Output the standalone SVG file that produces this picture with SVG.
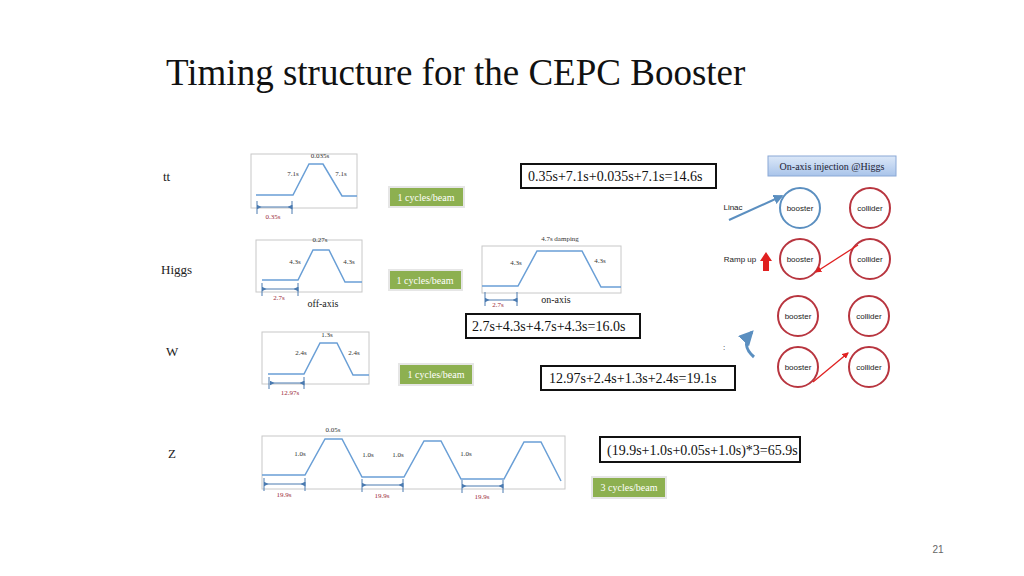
<svg xmlns="http://www.w3.org/2000/svg" width="1024" height="576" viewBox="0 0 1024 576">
<defs>
<style>
.s{font-family:"Liberation Serif",serif}
.k{font-size:7px;fill:#333;text-anchor:middle}
.r{font-size:7px;fill:#9b2a3a;text-anchor:middle}
.frame{fill:#fff;stroke:#c8c8c8;stroke-width:1}
.wave{fill:none;stroke:#6a9fd6;stroke-width:1.5}
.dim{stroke:#4a7ab0;stroke-width:1;marker-start:url(#ab);marker-end:url(#ab)}
.tick{stroke:#4a7ab0;stroke-width:1}
.fb{fill:#fff;stroke:#111;stroke-width:2}
.ft{font-size:14px;fill:#111}
.gb{fill:#8db050;stroke:#e6e6e6;stroke-width:2}
.gt{font-size:10px;fill:#fff;text-anchor:middle}
.rc{fill:#fff;stroke:#b8353f;stroke-width:2}
.ct{font-family:"Liberation Sans",sans-serif;font-size:8px;fill:#222;text-anchor:middle}
</style>
<marker id="ab" viewBox="0 0 6 6" refX="3" refY="3" markerWidth="5" markerHeight="5" orient="auto-start-reverse"><path d="M6,0 L0,3 L6,6z" fill="#4a7ab0"/></marker>
<marker id="ar" viewBox="0 0 6 6" refX="5" refY="3" markerWidth="5" markerHeight="5" orient="auto"><path d="M0,0 L6,3 L0,6z" fill="#e02020"/></marker>
<marker id="abl" viewBox="0 0 6 6" refX="5" refY="3" markerWidth="5" markerHeight="5" orient="auto"><path d="M0,0 L6,3 L0,6z" fill="#5b8fc0"/></marker>
<linearGradient id="tg" x1="0" y1="0" x2="0" y2="1"><stop offset="0" stop-color="#dce8f8"/><stop offset="1" stop-color="#a9c4ea"/></linearGradient>
</defs>
<rect width="1024" height="576" fill="#fff"/>
<text class="s" x="166" y="85" font-size="37" fill="#111">Timing structure for the CEPC Booster</text>

<g class="s" font-size="13" fill="#222">
<text x="163" y="181">tt</text><text x="161" y="274">Higgs</text><text x="166" y="356">W</text><text x="168" y="458">Z</text>
</g>

<g id="tt-chart">
<rect class="frame" x="251" y="154" width="106" height="54"/>
<path class="wave" d="M256,195 H293 L309,164 H323 L342,196 H357"/>
<text class="s k" x="320" y="158">0.035s</text><text class="s k" x="293" y="176">7.1s</text><text class="s k" x="341" y="176">7.1s</text>
<line class="dim" x1="259" y1="207" x2="290" y2="207"/><line class="tick" x1="257" y1="201" x2="257" y2="214"/><line class="tick" x1="292" y1="201" x2="292" y2="214"/>
<text class="s r" x="273" y="219">0.35s</text>
</g>
<g id="higgs-off">
<rect class="frame" x="256" y="240" width="106" height="52"/>
<path class="wave" d="M262,280 H298 L313,250 H329 L345,282 H362"/>
<text class="s k" x="320" y="242">0.27s</text><text class="s k" x="295" y="264">4.3s</text><text class="s k" x="349" y="264">4.3s</text>
<line class="dim" x1="264" y1="289" x2="296" y2="289"/><line class="tick" x1="262" y1="283" x2="262" y2="296"/><line class="tick" x1="298" y1="283" x2="298" y2="296"/>
<text class="s r" x="279" y="300">2.7s</text>
<text class="s" x="323" y="307" font-size="10" fill="#222" text-anchor="middle">off-axis</text>
</g>
<g id="higgs-on">
<rect class="frame" x="482" y="246" width="139" height="47"/>
<path class="wave" d="M482,286 H518 L537,251 H582 L601,287 H621"/>
<text class="s k" x="560" y="241">4.7s damping</text><text class="s k" x="516" y="265">4.3s</text><text class="s k" x="600" y="263">4.3s</text>
<line class="dim" x1="487" y1="300" x2="515" y2="300"/><line class="tick" x1="485" y1="292" x2="485" y2="306"/><line class="tick" x1="517" y1="292" x2="517" y2="306"/>
<text class="s r" x="498" y="307">2.7s</text>
<text class="s" x="556" y="303" font-size="10" fill="#222" text-anchor="middle">on-axis</text>
</g>
<g id="w-chart">
<rect class="frame" x="262" y="332" width="107" height="52"/>
<path class="wave" d="M268,374 H304 L320,343 H337 L353,375 H369"/>
<text class="s k" x="327" y="337">1.3s</text><text class="s k" x="301" y="355">2.4s</text><text class="s k" x="354" y="355">2.4s</text>
<line class="dim" x1="272" y1="383" x2="302" y2="383"/><line class="tick" x1="269" y1="377" x2="269" y2="389"/><line class="tick" x1="304" y1="377" x2="304" y2="389"/>
<text class="s r" x="290" y="395">12.97s</text>
</g>
<g id="z-chart">
<rect class="frame" x="262" y="436" width="303" height="53"/>
<path class="wave" d="M262,475 H305 L325,439 H342 L362,477 H404 L424,441 H441 L461,479 H504 L524,442 H541 L561,481"/>
<text class="s k" x="333" y="432">0.05s</text><text class="s k" x="300" y="456">1.0s</text><text class="s k" x="368" y="457">1.0s</text><text class="s k" x="398" y="457">1.0s</text><text class="s k" x="466" y="456">1.0s</text>
<line class="dim" x1="266" y1="484" x2="303" y2="484"/><line class="tick" x1="264" y1="478" x2="264" y2="491"/><line class="tick" x1="305" y1="478" x2="305" y2="491"/>
<line class="dim" x1="364" y1="485" x2="401" y2="485"/><line class="tick" x1="362" y1="479" x2="362" y2="492"/><line class="tick" x1="403" y1="479" x2="403" y2="492"/>
<line class="dim" x1="464" y1="486" x2="501" y2="486"/><line class="tick" x1="462" y1="480" x2="462" y2="493"/><line class="tick" x1="503" y1="480" x2="503" y2="493"/>
<text class="s r" x="284" y="497">19.9s</text><text class="s r" x="382" y="498">19.9s</text><text class="s r" x="482" y="499">19.9s</text>
</g>

<g id="cycles">
<rect class="gb" x="389" y="187" width="75" height="20"/><text class="s gt" x="426" y="201">1 cycles/beam</text>
<rect class="gb" x="389" y="270" width="73" height="20"/><text class="s gt" x="425" y="284">1 cycles/beam</text>
<rect class="gb" x="399" y="364" width="74" height="21"/><text class="s gt" x="436" y="378">1 cycles/beam</text>
<rect class="gb" x="592" y="477" width="74" height="21"/><text class="s gt" x="629" y="491">3 cycles/beam</text>
</g>
<g id="formulas" class="s">
<rect class="fb" x="521" y="164" width="195" height="24"/><text class="ft" x="528" y="181">0.35s+7.1s+0.035s+7.1s=14.6s</text>
<rect class="fb" x="466" y="314" width="174" height="24"/><text class="ft" x="472" y="331">2.7s+4.3s+4.7s+4.3s=16.0s</text>
<rect class="fb" x="541" y="366" width="194" height="24"/><text class="ft" x="549" y="383">12.97s+2.4s+1.3s+2.4s=19.1s</text>
<rect class="fb" x="600" y="437" width="200" height="25"/><text class="ft" x="607" y="455">(19.9s+1.0s+0.05s+1.0s)*3=65.9s</text>
</g>

<g id="onaxis">
<rect x="768" y="156" width="128" height="20" fill="url(#tg)" stroke="#8aa8d6"/>
<text class="s" x="832" y="170" font-size="10" fill="#223" text-anchor="middle">On-axis injection @Higgs</text>
<circle cx="800" cy="208" r="20" fill="#fff" stroke="#5b8fc0" stroke-width="2"/><text class="ct" x="800" y="211">booster</text>
<circle class="rc" cx="870" cy="208" r="20"/><text class="ct" x="870" y="211">collider</text>
<circle class="rc" cx="800" cy="259" r="20"/><text class="ct" x="800" y="262">booster</text>
<circle class="rc" cx="870" cy="259" r="20"/><text class="ct" x="870" y="262">collider</text>
<circle class="rc" cx="798" cy="316" r="20"/><text class="ct" x="798" y="319">booster</text>
<circle class="rc" cx="869" cy="316" r="20"/><text class="ct" x="869" y="319">collider</text>
<circle class="rc" cx="798" cy="367" r="20"/><text class="ct" x="798" y="370">booster</text>
<circle class="rc" cx="869" cy="367" r="20"/><text class="ct" x="869" y="370">collider</text>
<text class="ct" x="733" y="210" text-anchor="middle">Linac</text>
<text class="ct" x="740" y="262">Ramp up</text>
<text class="ct" x="724" y="350">:</text>
</g>
<g id="connectors">
<line x1="729" y1="220" x2="782" y2="196" stroke="#5b8fc0" stroke-width="2" marker-end="url(#abl)"/>
<path d="M763,271 V261 H760 L766,252 L772,261 H769 V271z" fill="#e02020"/>
<line x1="858" y1="245" x2="816" y2="272" stroke="#e02020" stroke-width="1.3" marker-end="url(#ar)"/>
<line x1="813" y1="382" x2="848" y2="353" stroke="#e02020" stroke-width="1.3" marker-end="url(#ar)"/>
<path d="M754,357 Q740,345 752,332" fill="none" stroke="#5b8fc0" stroke-width="3" marker-end="url(#abl)"/>
</g>
<text x="938" y="553" font-family="Liberation Sans,sans-serif" font-size="10" fill="#666" text-anchor="middle">21</text>
</svg>
